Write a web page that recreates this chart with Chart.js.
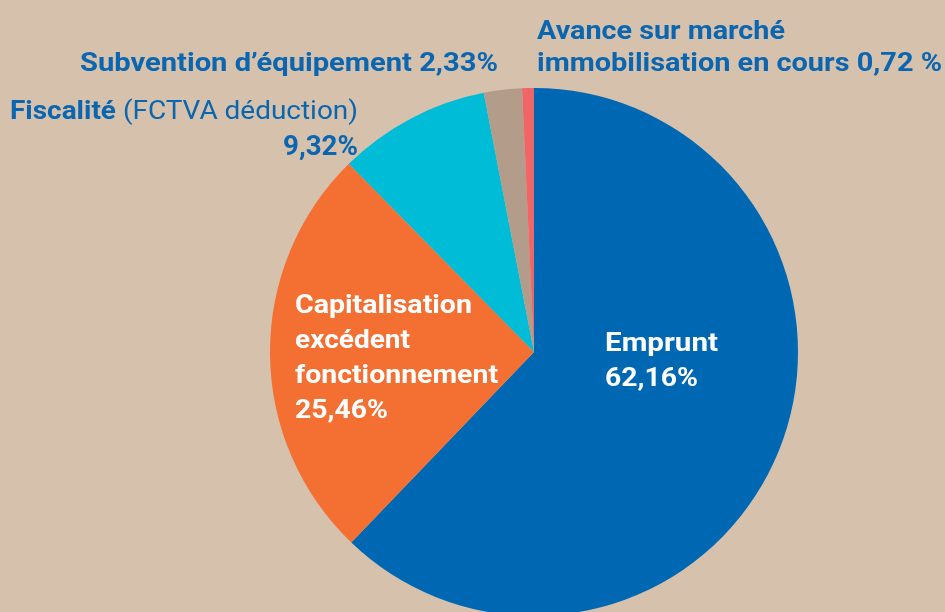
<!DOCTYPE html>
<html><head><meta charset="utf-8">
<script src="https://cdn.jsdelivr.net/npm/chart.js@4.4.1/dist/chart.umd.min.js"></script>
<style>html,body{margin:0;padding:0;background:#d6c1ac;overflow:hidden;width:945px;height:612px}canvas{display:block}</style>
</head><body>
<canvas id="c" width="945" height="700" style="width:945px;height:700px"></canvas>
<script>
const categories = ["Emprunt", "Capitalisation excédent fonctionnement", "Fiscalité (FCTVA déduction)", "Subvention d’équipement", "Avance sur marché immobilisation en cours"];
const values = [62.16, 25.46, 9.32, 2.33, 0.72];
const valueLabels = ["62,16%", "25,46%", "9,32%", "2,33%", "0,72 %"];
const colors = ["#0068b3", "#f37032", "#00bcd6", "#b39c89", "#f06565"];

const BLUE = "#0a66b0";
function fit(ctx, parts, x, y, w, align, size) {
  size = size || 26;
  let total = 0;
  parts.forEach(p => { ctx.font = p[1] + " " + size + "px Roboto"; total += ctx.measureText(p[0]).width; });
  const s = w ? w / total : 1;
  ctx.save();
  let sx = x;
  if (align === "right") sx = x - total * s;
  ctx.translate(sx, y);
  ctx.scale(s, 1);
  let cx = 0;
  parts.forEach(p => { ctx.font = p[1] + " " + size + "px Roboto"; ctx.fillText(p[0], cx, 0); cx += ctx.measureText(p[0]).width; });
  ctx.restore();
}
const labelPlugin = {
  id: "labels",
  afterDraw(chart) {
    const ctx = chart.ctx;
    ctx.save();
    ctx.textBaseline = "alphabetic";
    ctx.fillStyle = BLUE;
    fit(ctx, [["Avance sur marché", "bold"]], 537, 39, 248);
    fit(ctx, [["immobilisation en cours " + valueLabels[4], "bold"]], 537, 71, 405);
    fit(ctx, [["Subvention d’équipement " + valueLabels[3], "bold"]], 80, 71, 418);
    fit(ctx, [["Fiscalité", "bold"], [" (FCTVA déduction)", "normal"]], 10, 119, 348);
    fit(ctx, [[valueLabels[2], "bold"]], 358, 155, 75, "right", 27);
    ctx.fillStyle = "#ffffff";
    fit(ctx, [["Capitalisation", "bold"]], 295, 313, 177);
    fit(ctx, [["excédent", "bold"]], 295, 348, 115);
    fit(ctx, [["fonctionnement", "bold"]], 295, 383, 203);
    fit(ctx, [[valueLabels[1], "bold"]], 295, 418, 93);
    fit(ctx, [["Emprunt", "bold"]], 605, 351, 113);
    fit(ctx, [[valueLabels[0], "bold"]], 605, 386, 93);
    ctx.restore();
  }
};
new Chart(document.getElementById("c"), {
  type: "pie",
  data: { labels: categories, datasets: [{ data: values, backgroundColor: colors, borderWidth: 0 }] },
  options: {
    responsive: false,
    animation: false,
    layout: { padding: { top: 88, bottom: 84, left: 270, right: 147 } },
    plugins: { legend: { display: false }, tooltip: { enabled: false } }
  },
  plugins: [labelPlugin]
});
</script>
</body></html>
